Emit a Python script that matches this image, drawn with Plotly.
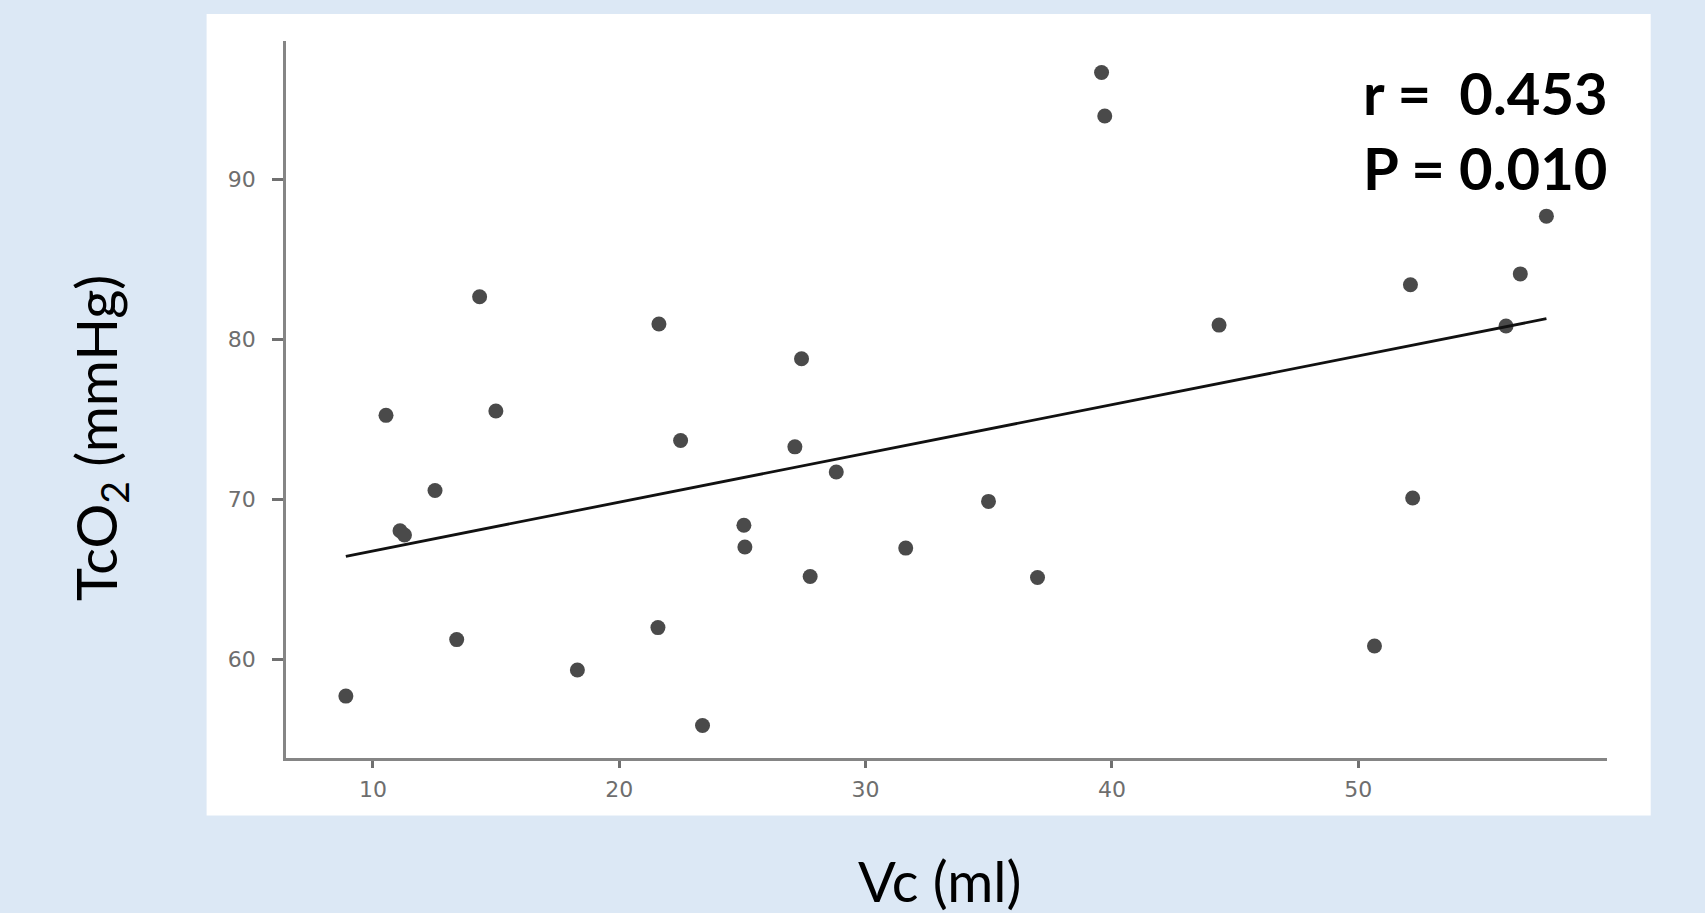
import numpy as np
import plotly.graph_objects as go

# Data
vc_ml = [39.58, 39.71, 57.64, 56.58, 52.12, 14.33, 21.61, 44.35, 56.00, 27.40,
         10.53, 14.99, 22.49, 27.13, 28.81, 12.52, 34.99, 52.21, 25.06, 11.10,
         11.28, 25.10, 31.63, 27.75, 36.98, 21.57, 13.40, 50.66, 18.30, 8.90, 23.38]
tco2_mmhg = [96.67, 93.95, 87.69, 84.08, 83.40, 82.65, 80.95, 80.88, 80.82, 78.78,
             75.24, 75.51, 73.67, 73.27, 71.70, 70.54, 69.86, 70.07, 68.37, 68.03,
             67.76, 67.01, 66.94, 65.17, 65.10, 61.97, 61.22, 60.82, 59.32, 57.69, 55.85]
x_ticks = [10, 20, 30, 40, 50]
y_ticks = [60, 70, 80, 90]
stat_lines = ["r =\u00a0 0.453", "P = 0.010"]

# Linear fit line over the data range
slope, intercept = np.polyfit(vc_ml, tco2_mmhg, 1)
fit_x = [min(vc_ml), max(vc_ml)]
fit_y = [intercept + slope * v for v in fit_x]

W, H = 1705, 913
L, R, T, B = 286, 98, 41, 155
pw, ph = W - L - R, H - T - B

def px(xpix):
    return (xpix - L) / pw

def py(ypix):
    return (H - B - ypix) / ph

fig = go.Figure()
fig.add_trace(go.Scatter(x=vc_ml, y=tco2_mmhg, mode="markers",
                         marker=dict(size=15, color="#4a4a4a"),
                         showlegend=False, hoverinfo="x+y"))
fig.add_trace(go.Scatter(x=fit_x, y=fit_y, mode="lines",
                         line=dict(color="#111111", width=2.8),
                         showlegend=False, hoverinfo="skip"))

tickfont = dict(family="DejaVu Sans", size=22, color="#6e6e6e")
fig.update_xaxes(range=[6.47, 60.1], tickvals=x_ticks, showgrid=False, zeroline=False,
                 showline=True, linecolor="#858585", linewidth=2.5,
                 ticks="outside", ticklen=7, tickwidth=2.5, tickcolor="#707070",
                 tickfont=tickfont, ticklabelstandoff=3)
fig.update_yaxes(range=[53.82, 98.64], tickvals=y_ticks, showgrid=False, zeroline=False,
                 showline=True, linecolor="#858585", linewidth=2.5,
                 ticks="outside", ticklen=11, tickwidth=2.5, tickcolor="#707070",
                 tickfont=tickfont, ticklabelstandoff=12)

# White panel behind the plot
fig.add_shape(type="rect", xref="paper", yref="paper",
              x0=px(206.6), x1=px(1650.7), y0=py(815.6), y1=py(14),
              fillcolor="white", line=dict(width=0), layer="below")

titlefont = dict(family="Lato", size=56, color="#000000")
fig.add_annotation(text="Vc (ml)", xref="paper", yref="paper",
                   x=px(940), y=py(880), xanchor="center", yanchor="middle",
                   showarrow=False, font=titlefont)
fig.add_annotation(text="TcO<sub>2</sub> (mmHg)", xref="paper", yref="paper",
                   x=px(100), y=py(438), xanchor="center", yanchor="middle",
                   textangle=-90, showarrow=False, font=titlefont)

statfont = dict(family="Lato", size=58, color="#000000", weight="bold")
fig.add_annotation(text="<b>" + stat_lines[0] + "</b>", xref="paper", yref="paper",
                   x=px(1361), y=py(92), xanchor="left", yanchor="middle",
                   showarrow=False, font=statfont)
fig.add_annotation(text="<b>" + stat_lines[1] + "</b>", xref="paper", yref="paper",
                   x=px(1361), y=py(168), xanchor="left", yanchor="middle",
                   showarrow=False, font=statfont)

fig.update_layout(width=W, height=H, margin=dict(l=L, r=R, t=T, b=B, autoexpand=False),
                  paper_bgcolor="#DCE8F5", plot_bgcolor="white")

fig.write_html("out.html")
